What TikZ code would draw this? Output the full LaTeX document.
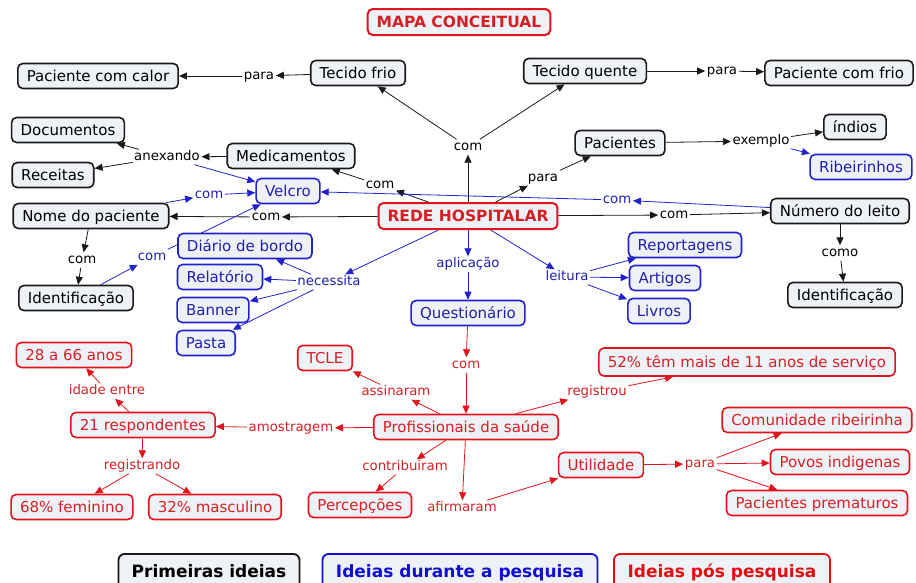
\documentclass[tikz,border=0pt]{standalone}
\usepackage{fontspec}
\setmainfont{DejaVu Sans}
\usetikzlibrary{arrows.meta,backgrounds}
\definecolor{nfill}{HTML}{EEF2F6}
\definecolor{bkline}{HTML}{1A1A1A}
\definecolor{blline}{HTML}{2222CC}
\definecolor{rdline}{HTML}{E0141C}
\definecolor{bltext}{HTML}{2020AA}
\definecolor{rdtext}{HTML}{D42024}
\definecolor{legblue}{HTML}{1010D0}
\definecolor{legred}{HTML}{E01010}
\newcommand{\cmNodeFont}{\fontsize{15}{18}\selectfont}
\newcommand{\cmLinkFont}{\fontsize{13.3}{16}\selectfont}
\newcommand{\cmBoldFont}{\fontsize{15.5}{18}\selectfont\bfseries}
\newcommand{\cmLegFont}{\fontsize{17}{20}\selectfont\bfseries}
\begin{document}
\begin{tikzpicture}[x=1pt,y=-1pt,
  base/.style={draw, rounded corners=5pt, line width=1.6pt, fill=nfill,
    inner xsep=9pt, inner ysep=0pt, text height=11.5pt, text depth=1.5pt,
    minimum height=25pt, font=\cmNodeFont},
  bk/.style={base, draw=bkline, text=black},
  bl/.style={base, draw=blline, text=bltext},
  rd/.style={base, draw=rdline, text=rdtext},
  big/.style={base, draw=rdline, text=rdtext, font=\cmBoldFont, line width=2pt, minimum height=26pt},
  lnk/.style={inner sep=1.5pt, font=\cmLinkFont, text height=9.5pt, text depth=2.5pt},
  lk/.style={lnk, text=black},
  lb/.style={lnk, text=bltext},
  lr/.style={lnk, text=rdtext},
  tip/.style={-{Triangle[length=8pt,width=7pt]}},
  ek/.style={draw=bkline, line width=0.8pt, tip},
  eb/.style={draw=blline, line width=0.8pt, tip},
  er/.style={draw=rdline, line width=0.8pt, tip},
  leg/.style={draw, rounded corners=6pt, line width=1.8pt, fill=nfill,
    font=\cmLegFont, text height=12.5pt, text depth=3.5pt, inner ysep=0pt, minimum height=38pt}
]
\useasboundingbox (0,0) rectangle (916,582);

% ---------- nodes ----------
\node[big] (mapa) at (459,22) {MAPA CONCEITUAL};
\node[bk] (pcalor) at (98,76) {Paciente com calor};
\node[lk] (para1) at (259,76) {para};
\node[bk] (tfrio) at (358,73) {Tecido frio};
\node[bk] (tquente) at (585,71) {Tecido quente};
\node[lk] (para2) at (722,71) {para};
\node[bk] (pfrio) at (839,73) {Paciente com frio};
\node[bk] (docs) at (68,130) {Documentos};
\node[bk] (medic) at (291,156) {Medicamentos};
\node[lk] (anex) at (167,157) {anexando};
\node[bk] (receitas) at (53,175) {Receitas};
\node[bk] (pacs) at (620,143) {Pacientes};
\node[lk] (exemplo) at (761,141) {exemplo};
\node[bk] (indios) at (855,127) {índios};
\node[bl] (ribs) at (861,167) {Ribeirinhos};
\node[lk] (com1) at (468,147) {com};
\node[lk] (para3) at (543,178) {para};
\node[lk] (com2) at (380,185) {com};
\node[bl] (velcro) at (288,191) {Velcro};
\node[lb] (com3) at (209,195) {com};
\node[lb] (com4) at (617,200) {com};
\node[bk] (nome) at (91,216) {Nome do paciente};
\node[lk] (com5) at (266,217) {com};
\node[big] (rede) at (468,216) {REDE HOSPITALAR};
\node[lk] (com6) at (674,215) {com};
\node[bk] (leito) at (840,211) {Número do leito};
\node[bl] (diario) at (245,246) {Diário de bordo};
\node[lk] (com7) at (82,260) {com};
\node[lb] (com8) at (152,257) {com};
\node[lb] (aplic) at (468,264) {aplicação};
\node[lb] (leit) at (567,277) {leitura};
\node[bl] (reports) at (685,245) {Reportagens};
\node[lk] (como) at (840,253) {como};
\node[bl] (artigos) at (665,278) {Artigos};
\node[bl] (relat) at (220,277) {Relatório};
\node[lb] (neces) at (329,282) {necessita};
\node[bk] (ident1) at (76,298) {Identificação};
\node[bk] (ident2) at (845,295) {Identificação};
\node[bl] (banner) at (213,310) {Banner};
\node[bl] (livros) at (659,311) {Livros};
\node[bl] (quest) at (468,313) {Questionário};
\node[bl] (pasta) at (206,343) {Pasta};
\node[rd] (anos) at (74,355) {28 a 66 anos};
\node[rd] (tcle) at (325,358) {TCLE};
\node[rd, minimum height=28pt] (pct) at (747,362) {52\% têm mais de 11 anos de serviço};
\node[lr] (com9) at (466,365) {com};
\node[lr] (idade) at (107,391) {idade entre};
\node[lr] (assin) at (396,392) {assinaram};
\node[lr] (regtou) at (597,392) {registrou};
\node[rd] (resp) at (143,425) {21 respondentes};
\node[lr] (amost) at (291,428) {amostragem};
\node[rd] (prof) at (466,427) {Profissionais da saúde};
\node[rd] (comun) at (817,420) {Comunidade ribeirinha};
\node[lr] (regdo) at (142,466) {registrando};
\node[lr] (contrib) at (405,467) {contribuiram};
\node[rd] (util) at (601,465) {Utilidade};
\node[lr] (para4) at (700,464) {para};
\node[rd] (povos) at (840,462) {Povos indigenas};
\node[rd] (fem) at (72,507) {68\% feminino};
\node[rd] (masc) at (215,507) {32\% masculino};
\node[rd] (percep) at (360,505) {Percepções};
\node[lr] (afirm) at (462,508) {afirmaram};
\node[rd] (premat) at (817,503) {Pacientes prematuros};

\node[leg, draw=bkline, text=black, minimum width=181pt] (leg1) at (209,573) {Primeiras ideias};
\node[leg, draw=legblue, text=legblue, minimum width=275pt] (leg2) at (460,573) {Ideias durante a pesquisa};
\node[leg, draw=legred, text=legred, minimum width=216pt] (leg3) at (722,573) {Ideias pós pesquisa};

% ---------- connectors ----------
\begin{pgfonlayer}{background}
\fill[white] (0,0) rectangle (916,582);
% black
\draw[ek] (tfrio) -- (para1);
\draw[ek] (para1) -- (pcalor);
\draw[ek] (tquente) -- (para2);
\draw[ek] (para2) -- (pfrio);
\draw[ek] (rede) -- (com1);
\draw[ek] (com1) -- (tfrio);
\draw[ek] (com1) -- (tquente);
\draw[ek] (rede) -- (com2);
\draw[ek] (com2) -- (medic);
\draw[ek] (medic) -- (anex);
\draw[ek] (anex) -- (docs);
\draw[ek] (anex) -- (receitas);
\draw[ek] (rede) -- (para3);
\draw[ek] (para3) -- (pacs);
\draw[ek] (pacs) -- (exemplo);
\draw[ek] (exemplo) -- (indios);
\draw[ek] (rede) -- (com5);
\draw[ek] (com5) -- (nome);
\draw[ek] (rede) -- (com6);
\draw[ek] (com6) -- (leito);
\draw[ek] (leito) -- (como);
\draw[ek] (como) -- (ident2);
\draw[ek] (nome) -- (com7);
\draw[ek] (com7) -- (ident1);
% blue
\draw[eb] (anex) -- (velcro);
\draw[eb] (exemplo) -- (ribs);
\draw[eb] (leito) -- (com4);
\draw[eb] (com4) -- (velcro);
\draw[eb] (nome) -- (com3);
\draw[eb] (com3) -- (velcro);
\draw[eb] (ident1) -- (com8);
\draw[eb] (com8) -- (velcro);
\draw[eb] (rede) -- (neces);
\draw[eb] (neces) -- (diario);
\draw[eb] (neces) -- (relat);
\draw[eb] (neces) -- (banner);
\draw[eb] (neces) -- (pasta);
\draw[eb] (rede) -- (aplic);
\draw[eb] (aplic) -- (quest);
\draw[eb] (rede) -- (leit);
\draw[eb] (leit) -- (reports);
\draw[eb] (leit) -- (artigos);
\draw[eb] (leit) -- (livros);
% red
\draw[er] (quest) -- (com9);
\draw[er] (com9) -- (prof);
\draw[er] (prof) -- (assin);
\draw[er] (assin) -- (tcle);
\draw[er] (prof) -- (regtou);
\draw[er] (regtou) -- (pct);
\draw[er] (prof) -- (amost);
\draw[er] (amost) -- (resp);
\draw[er] (prof) -- (contrib);
\draw[er] (contrib) -- (percep);
\draw[er] (prof) -- (afirm);
\draw[er] (afirm) -- (util);
\draw[er] (util) -- (para4);
\draw[er] (para4) -- (comun);
\draw[er] (para4) -- (povos);
\draw[er] (para4) -- (premat);
\draw[er] (resp) -- (idade);
\draw[er] (idade) -- (anos);
\draw[er] (resp) -- (regdo);
\draw[er] (regdo) -- (fem);
\draw[er] (regdo) -- (masc);
\end{pgfonlayer}
\end{tikzpicture}
\end{document}
